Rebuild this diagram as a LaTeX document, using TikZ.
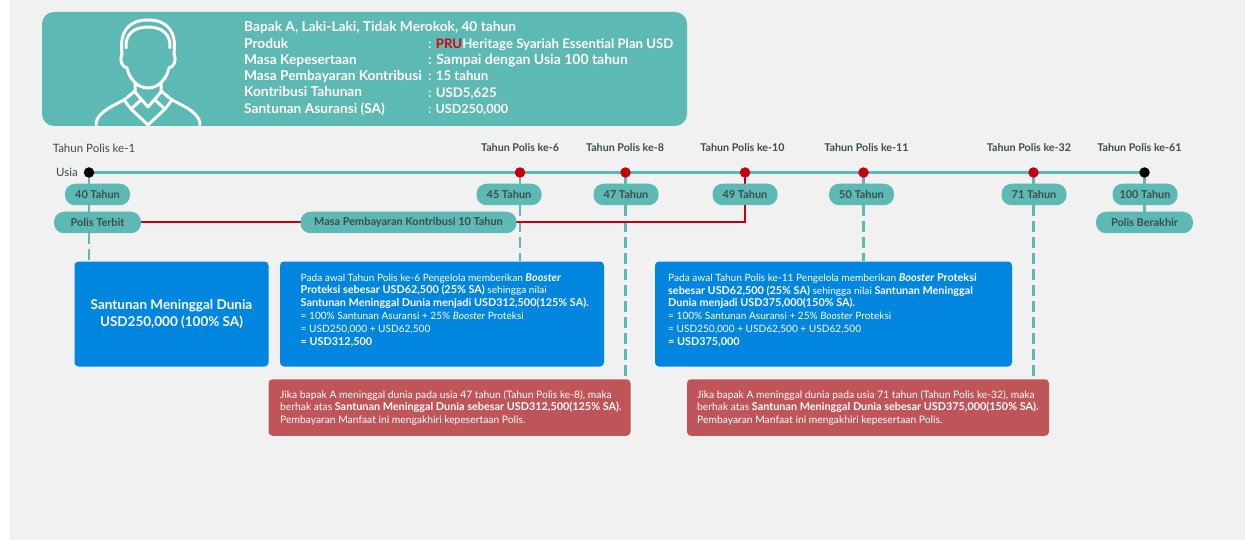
\documentclass[tikz,border=0pt]{standalone}
\usepackage{fontspec}
\usetikzlibrary{backgrounds}
\setmainfont{Lato}
\newlength{\du}
\setlength{\du}{1pt}
\definecolor{pagegray}{rgb}{0.945,0.945,0.945}
\definecolor{tealfill}{rgb}{0.365,0.725,0.702}
\definecolor{bluefill}{rgb}{0.000,0.525,0.875}
\definecolor{redfill}{rgb}{0.753,0.333,0.349}
\definecolor{prured}{rgb}{0.760,0.000,0.060}
\definecolor{prutext}{rgb}{0.860,0.000,0.080}
\definecolor{darktext}{rgb}{0.230,0.300,0.310}
\newcommand{\bb}[1]{{\fontsize{10.85}{12.8}\selectfont\bfseries #1}}
\tikzset{
  pill/.style={fill=tealfill,rounded corners=10\du,minimum height=21.5\du,inner sep=0pt,
    text=darktext,font=\fontsize{10.9}{12}\selectfont\bfseries},
  yearlabel/.style={text=darktext,inner sep=0pt,font=\fontsize{10.7}{12}\selectfont\bfseries},
  yearplain/.style={text=darktext,inner sep=0pt,font=\fontsize{11.5}{13}\selectfont},
  headtext/.style={anchor=base west,inner sep=0pt,text=white,font=\fontsize{13.7}{15}\selectfont\bfseries},
  headval/.style={anchor=base west,inner sep=0pt,text=white,font=\fontsize{13.2}{15}\selectfont\bfseries},
  bluebox/.style={fill=bluefill,rounded corners=4\du,inner sep=0pt},
  redbox/.style={fill=redfill,rounded corners=4\du,inner sep=0pt},
  boxtext/.style={anchor=north west,inner sep=0pt,text=white,align=left,font=\fontsize{10.1}{12.8}\selectfont},
  redtext/.style={anchor=north west,inner sep=0pt,text=white,align=left,font=\fontsize{10.3}{12.8}\selectfont},
  stem/.style={draw=tealfill,line width=2.6\du},
  dashstem/.style={stem,dash pattern=on 11\du off 5\du},
  axisline/.style={draw=tealfill,line width=3.4\du},
  redline/.style={draw=prured,line width=2\du},
  dotblack/.style={circle,fill=black,inner sep=0pt,minimum size=10.5\du},
  dotred/.style={circle,fill=prured,inner sep=0pt,minimum size=10.5\du},
  iconline/.style={draw=white,line width=3\du,line join=round,line cap=round}
}
\begin{document}
\begin{tikzpicture}
\pgftransformxscale{1.000000}
\pgftransformyscale{-1.000000}
\useasboundingbox (0\du,0\du) rectangle (1245\du,540\du);
\begin{scope}[on background layer]
\fill[white] (0\du,0\du) rectangle (1245\du,540\du);
\fill[pagegray] (10\du,0\du) rectangle (1245\du,540\du);
\end{scope}
% header card
\fill[tealfill,rounded corners=12\du] (42\du,12\du) rectangle (687\du,126\du);
\draw[iconline] (122\du,54\du) .. controls (119\du,30\du) and (130\du,20\du) .. (148\du,20\du) .. controls (166\du,20\du) and (177\du,30\du) .. (174\du,54\du);
\draw[iconline] (126\du,48\du) .. controls (125\du,34\du) and (134\du,27\du) .. (148\du,27\du) .. controls (162\du,27\du) and (171\du,34\du) .. (170\du,48\du);
\draw[iconline] (122\du,54\du) .. controls (119\du,60\du) and (122\du,67\du) .. (127\du,68\du) .. controls (129\du,78\du) and (137\du,88\du) .. (148\du,88\du) .. controls (159\du,88\du) and (167\du,78\du) .. (169\du,68\du) .. controls (174\du,67\du) and (177\du,60\du) .. (174\du,54\du);
\draw[iconline] (135\du,82\du)--(135\du,92\du)--(148\du,107\du)--(161\du,92\du)--(161\du,82\du);
\draw[iconline] (135\du,91\du)--(124\du,100\du)--(131\du,109\du)--(148\du,125\du)--(165\du,109\du)--(172\du,100\du)--(161\du,91\du);
\draw[iconline] (131\du,109\du)--(141\du,100\du);
\draw[iconline] (165\du,109\du)--(155\du,100\du);
\draw[iconline] (96\du,125\du) .. controls (96\du,114\du) and (108\du,108\du) .. (124\du,100\du);
\draw[iconline] (200\du,125\du) .. controls (200\du,114\du) and (188\du,108\du) .. (172\du,100\du);
\node[headtext] (title) at (244\du,31.5\du){Bapak A, Laki-Laki, Tidak Merokok, 40 tahun};
\node[headtext] (produk) at (244\du,48.5\du){Produk};
\node[headval] (produkval) at (428\du,48.5\du){: \textcolor{prutext}{PRU}Heritage Syariah Essential Plan USD};
\node[headtext] (masa) at (244\du,64.5\du){Masa Kepesertaan};
\node[headval,font=\fontsize{14}{15}\selectfont\bfseries] (masaval) at (428\du,64.5\du){: Sampai dengan Usia 100 tahun};
\node[headtext] (bayar) at (244\du,81\du){Masa Pembayaran Kontribusi};
\node[headval] (bayarval) at (428\du,81\du){: 15 tahun};
\node[headtext] (kontribusi) at (244\du,97\du){Kontribusi Tahunan};
\node[headval] (kontribusival) at (428\du,98\du){: USD5,625};
\node[headtext] (santunan) at (244\du,113.5\du){Santunan Asuransi (SA)};
\node[headval,font=\fontsize{12.6}{15}\selectfont\bfseries] (santunanval) at (428\du,114\du){: USD250,000};
% timeline labels
\node[yearplain] (thn1) at (94\du,148\du){Tahun Polis ke-1};
\node[yearlabel] (thn6) at (520\du,148\du){Tahun Polis ke-6};
\node[yearlabel] (thn8) at (625\du,148\du){Tahun Polis ke-8};
\node[yearlabel] (thn10) at (742.5\du,148\du){Tahun Polis ke-10};
\node[yearlabel] (thn11) at (866.5\du,148\du){Tahun Polis ke-11};
\node[yearlabel] (thn32) at (1029\du,148\du){Tahun Polis ke-32};
\node[yearlabel] (thn61) at (1139.5\du,148\du){Tahun Polis ke-61};
\node[yearplain] (usia) at (67\du,172.5\du){Usia};
% dots
\node[dotblack] (d1) at (89\du,172.5\du){};
\node[dotred] (d6) at (520\du,172.5\du){};
\node[dotred] (d8) at (625.5\du,172.5\du){};
\node[dotred] (d10) at (745\du,172.5\du){};
\node[dotred] (d11) at (863.5\du,172.5\du){};
\node[dotred] (d32) at (1033.5\du,172.5\du){};
\node[dotblack] (d61) at (1144.5\du,172.5\du){};
% pills
\node[pill,minimum width=65\du] (u40) at (97.5\du,194.5\du){40 Tahun};
\node[pill,minimum width=65\du] (u45) at (509\du,194.5\du){45 Tahun};
\node[pill,minimum width=65\du] (u47) at (626\du,194.5\du){47 Tahun};
\node[pill,minimum width=65\du] (u49) at (745\du,194.5\du){49 Tahun};
\node[pill,minimum width=65\du] (u50) at (861.5\du,194.5\du){50 Tahun};
\node[pill,minimum width=65\du] (u71) at (1034\du,194.5\du){71 Tahun};
\node[pill,minimum width=65\du] (u100) at (1145\du,194.5\du){100 Tahun};
\node[pill,minimum width=87\du] (terbit) at (97.5\du,222.5\du){Polis Terbit};
\node[pill,minimum width=216\du] (masabayar) at (408.5\du,222.5\du){Masa Pembayaran Kontribusi 10 Tahun};
\node[pill,minimum width=97\du] (berakhir) at (1144.5\du,222.5\du){Polis Berakhir};
% boxes
\node[bluebox,minimum width=194\du,minimum height=105\du,text=white,align=center,font=\fontsize{13.5}{17}\selectfont\bfseries] (box40) at (171.5\du,314\du){Santunan Meninggal Dunia\\USD250,000 (100\% SA)};
\node[bluebox,minimum width=324\du,minimum height=105\du] (box45) at (442\du,314\du){};
\node[bluebox,minimum width=357\du,minimum height=105\du] (box50) at (833.5\du,314\du){};
\node[redbox,minimum width=362\du,minimum height=56.5\du] (box47) at (449.5\du,407.5\du){};
\node[redbox,minimum width=362\du,minimum height=56.5\du] (box71) at (868\du,407.5\du){};
\node[boxtext] (text45) at (300.5\du,273\du){Pada awal Tahun Polis ke-6 Pengelola memberikan \bb{\itshape Booster}\\
\bb{Proteksi sebesar USD62,500 (25\% SA)} sehingga nilai\\
\bb{Santunan Meninggal Dunia menjadi USD312,500(125\% SA).}\\
= 100\% Santunan Asuransi + 25\% \textit{Booster} Proteksi\\
= USD250,000 + USD62,500\\
\bb{= USD312,500}};
\node[boxtext] (text50) at (668\du,273\du){Pada awal Tahun Polis ke-11 Pengelola memberikan \bb{\textit{Booster} Proteksi}\\
\bb{sebesar USD62,500 (25\% SA)} sehingga nilai \bb{Santunan Meninggal}\\
\bb{Dunia menjadi USD375,000(150\% SA).}\\
= 100\% Santunan Asuransi + 25\% \textit{Booster} Proteksi\\
= USD250,000 + USD62,500 + USD62,500\\
\bb{= USD375,000}};
\node[redtext] (text47) at (280\du,390\du){Jika bapak A meninggal dunia pada usia 47 tahun (Tahun Polis ke-8), maka\\
berhak atas \bb{Santunan Meninggal Dunia sebesar USD312,500(125\% SA).}\\
Pembayaran Manfaat ini mengakhiri kepesertaan Polis.};
\node[redtext] (text71) at (697\du,390\du){Jika bapak A meninggal dunia pada usia 71 tahun (Tahun Polis ke-32), maka\\
berhak atas \bb{Santunan Meninggal Dunia sebesar USD375,000(150\% SA).}\\
Pembayaran Manfaat ini mengakhiri kepesertaan Polis.};
% connectors
\begin{scope}[on background layer]
\draw[axisline] (d1.center)--(d61.center);
\draw[stem] (d1.center)--(d1 |- terbit.south);
\draw[dashstem] (d1 |- terbit.south)--(d1 |- box40.north);
\draw[stem] (d6.center)--(d6 |- u45.south);
\draw[dashstem] (d6 |- u45.south)--(d6 |- box45.north);
\draw[stem] (d8.center)--(d8 |- u47.south);
\draw[dashstem] (d8 |- u47.south)--(d8 |- box47.north);
\draw[redline] (d10.center)--(d10 |- terbit.east)--(terbit.east);
\draw[stem] (d11.center)--(d11 |- u50.south);
\draw[dashstem] (d11 |- u50.south)--(d11 |- box50.north);
\draw[stem] (d32.center)--(d32 |- u71.south);
\draw[dashstem] (d32 |- u71.south)--(d32 |- box71.north);
\draw[stem] (d61.center)--(d61 |- berakhir.north);
\end{scope}
\end{tikzpicture}
\end{document}
